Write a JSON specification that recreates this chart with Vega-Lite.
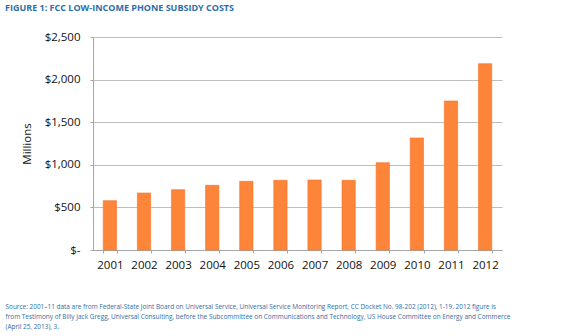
{
  "$schema": "https://vega.github.io/schema/vega-lite/v6.json",
  "width": 409,
  "height": 213,
  "autosize": {"type": "none"},
  "padding": {"left": 93, "top": 37, "right": 83, "bottom": 86},
  "background": "white",
  "title": {
    "text": "FIGURE 1: FCC LOW-INCOME PHONE SUBSIDY COSTS",
    "anchor": "start",
    "frame": "group",
    "dx": -88,
    "offset": 18,
    "font": "Open Sans",
    "fontSize": 9,
    "fontWeight": "bold",
    "color": "#2E6EA8"
  },
  "data": {
    "values": [
      {"year": "2001", "cost": 579},
      {"year": "2002", "cost": 669},
      {"year": "2003", "cost": 708},
      {"year": "2004", "cost": 759},
      {"year": "2005", "cost": 806},
      {"year": "2006", "cost": 818},
      {"year": "2007", "cost": 822},
      {"year": "2008", "cost": 818},
      {"year": "2009", "cost": 1025},
      {"year": "2010", "cost": 1315},
      {"year": "2011", "cost": 1749},
      {"year": "2012", "cost": 2187}
    ]
  },
  "mark": {"type": "bar", "color": "#FD853A", "stroke": "#F7722A", "strokeWidth": 0.6},
  "encoding": {
    "x": {
      "field": "year",
      "type": "ordinal",
      "scale": {"paddingInner": 0.61, "paddingOuter": 0.3},
      "axis": {
        "labelAngle": 0,
        "labelFont": "Open Sans",
        "labelFontSize": 11.5,
        "labelColor": "#111111",
        "labelPadding": 6,
        "tickBand": "extent",
        "tickSize": 3,
        "tickColor": "#A6A6A6",
        "domainColor": "#A6A6A6",
        "title": [
          "Source: 2001–11 data are from Federal-State Joint Board on Universal Service, Universal Service Monitoring Report, CC Docket No. 98-202 (2012), 1-19. 2012 figure is",
          "from Testimony of Billy Jack Gregg, Universal Consulting, before the Subcommittee on Communications and Technology, US House Committee on Energy and Commerce",
          "(April 25, 2013), 3."
        ],
        "titleAnchor": "start",
        "titleAlign": "left",
        "titleBaseline": "top",
        "titleX": -88,
        "titleY": 53,
        "titleFont": "Open Sans",
        "titleFontSize": 6.45,
        "titleFontWeight": "normal",
        "titleColor": "#2E6EA8",
        "titleLineHeight": 10
      }
    },
    "y": {
      "field": "cost",
      "type": "quantitative",
      "scale": {"domain": [0, 2500]},
      "axis": {
        "values": [0, 500, 1000, 1500, 2000, 2500],
        "labelExpr": "datum.value === 0 ? '$-' : format(datum.value, '$,')",
        "labelFont": "Open Sans",
        "labelFontSize": 11.5,
        "labelColor": "#111111",
        "labelPadding": 10,
        "tickSize": 3,
        "tickColor": "#A6A6A6",
        "domainColor": "#A6A6A6",
        "gridColor": "#BFBFBF",
        "title": "Millions",
        "titleFont": "Open Sans",
        "titleFontSize": 11.5,
        "titleFontWeight": "normal",
        "titleColor": "#111111",
        "titlePadding": 12
      }
    }
  },
  "config": {"view": {"stroke": null}}
}
